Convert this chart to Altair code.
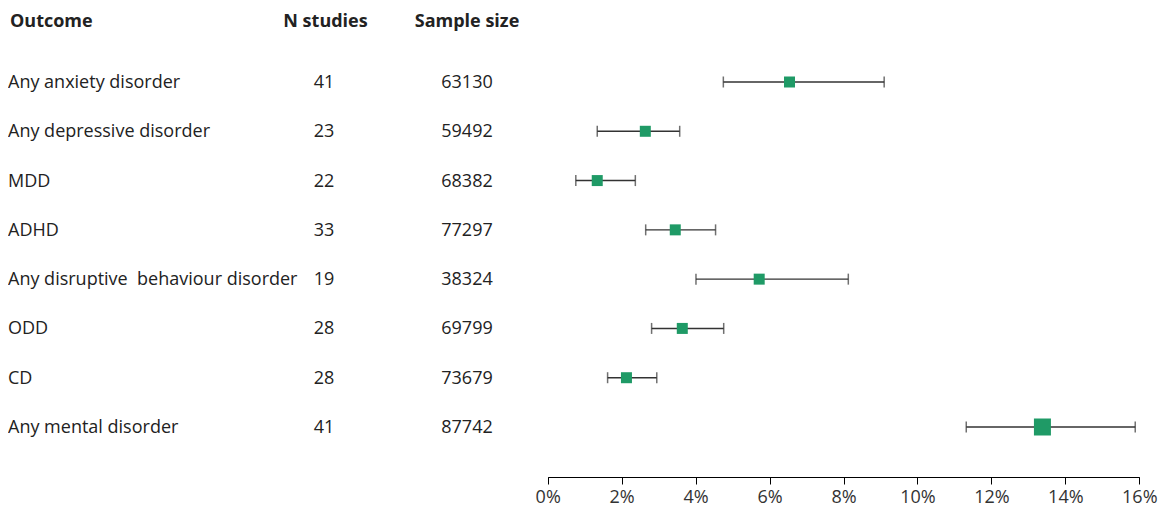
import altair as alt
import pandas as pd

outcomes = ["Any anxiety disorder", "Any depressive disorder", "MDD", "ADHD",
            "Any disruptive\u00a0 behaviour disorder", "ODD", "CD", "Any mental disorder"]
n_studies = [41, 23, 22, 33, 19, 28, 28, 41]
sample_size = [63130, 59492, 68382, 77297, 38324, 69799, 73679, 87742]
estimate = [6.54, 2.64, 1.34, 3.45, 5.72, 3.64, 2.13, 13.38]
lower = [4.75, 1.34, 0.76, 2.65, 4.01, 2.81, 1.62, 11.32]
upper = [9.10, 3.57, 2.37, 4.54, 8.13, 4.76, 2.95, 15.89]
tick_values = [0, 2, 4, 6, 8, 10, 12, 14, 16]

df = pd.DataFrame({
    "outcome": outcomes,
    "n": [str(v) for v in n_studies],
    "size": [str(v) for v in sample_size],
    "est": estimate,
    "lo": lower,
    "hi": upper,
})

FONT = "Open Sans"
FS = 18
TXT = "#222222"

yenc = alt.Y("outcome:N", sort=outcomes, axis=None,
             scale=alt.Scale(type="point", range=[74, 419], padding=0))
xscale = alt.Scale(domain=[0, 16], range=[539.7, 1131.3], nice=False, zero=False)
xaxis = alt.Axis(values=tick_values, labelExpr="datum.value + '%'", grid=False,
                 tickSize=7, labelFontSize=18, labelFont=FONT, labelColor="#333333",
                 domainColor="#000000", tickColor="#000000", labelPadding=4,
                 labelFlush=False, labelOverlap=False,
                 title=None, orient="bottom")

base = alt.Chart(df)

rule = base.mark_rule(color="#333333", strokeWidth=1.4).encode(
    x=alt.X("lo:Q", scale=xscale, axis=xaxis), x2="hi:Q", y=yenc)
cap_lo = base.mark_tick(color="#333333", thickness=1.5, size=11, orient="vertical").encode(
    x=alt.X("lo:Q", scale=xscale), y=yenc)
cap_hi = base.mark_tick(color="#333333", thickness=1.5, size=11, orient="vertical").encode(
    x=alt.X("hi:Q", scale=xscale), y=yenc)
pts = base.mark_square(color="#1f9a66", opacity=1, shape="square").encode(
    x=alt.X("est:Q", scale=xscale), y=yenc,
    size=alt.condition(alt.datum.outcome == "Any mental disorder",
                       alt.value(289), alt.value(121)))

lab = base.mark_text(align="left", baseline="middle", font=FONT, fontSize=FS, color=TXT, dy=1).encode(
    x=alt.value(0), y=yenc, text="outcome:N")
ncol = base.mark_text(align="center", baseline="middle", font=FONT, fontSize=FS, color=TXT, dy=1).encode(
    x=alt.value(316), y=yenc, text="n:N")
scol = base.mark_text(align="center", baseline="middle", font=FONT, fontSize=FS, color=TXT, dy=1).encode(
    x=alt.value(459), y=yenc, text="size:N")

hdr_df = pd.DataFrame({"h": ["Outcome", "N studies", "Sample size"]})
h1 = alt.Chart(hdr_df).transform_filter(alt.datum.h == "Outcome").mark_text(
    align="left", baseline="middle", font=FONT, fontSize=FS, fontWeight="bold", color=TXT
).encode(x=alt.value(2), y=alt.value(14), text="h:N")
h2 = alt.Chart(hdr_df).transform_filter(alt.datum.h == "N studies").mark_text(
    align="center", baseline="middle", font=FONT, fontSize=FS, fontWeight="bold", color=TXT
).encode(x=alt.value(317.5), y=alt.value(14), text="h:N")
h3 = alt.Chart(hdr_df).transform_filter(alt.datum.h == "Sample size").mark_text(
    align="center", baseline="middle", font=FONT, fontSize=FS, fontWeight="bold", color=TXT
).encode(x=alt.value(459), y=alt.value(14), text="h:N")

chart = alt.layer(rule, cap_lo, cap_hi, pts, lab, ncol, scol, h1, h2, h3).properties(
    width=1150, height=469, padding=0, background="white"
).configure_view(strokeWidth=0)

chart.save("out.html", embed_options={"renderer": "svg", "actions": False})
